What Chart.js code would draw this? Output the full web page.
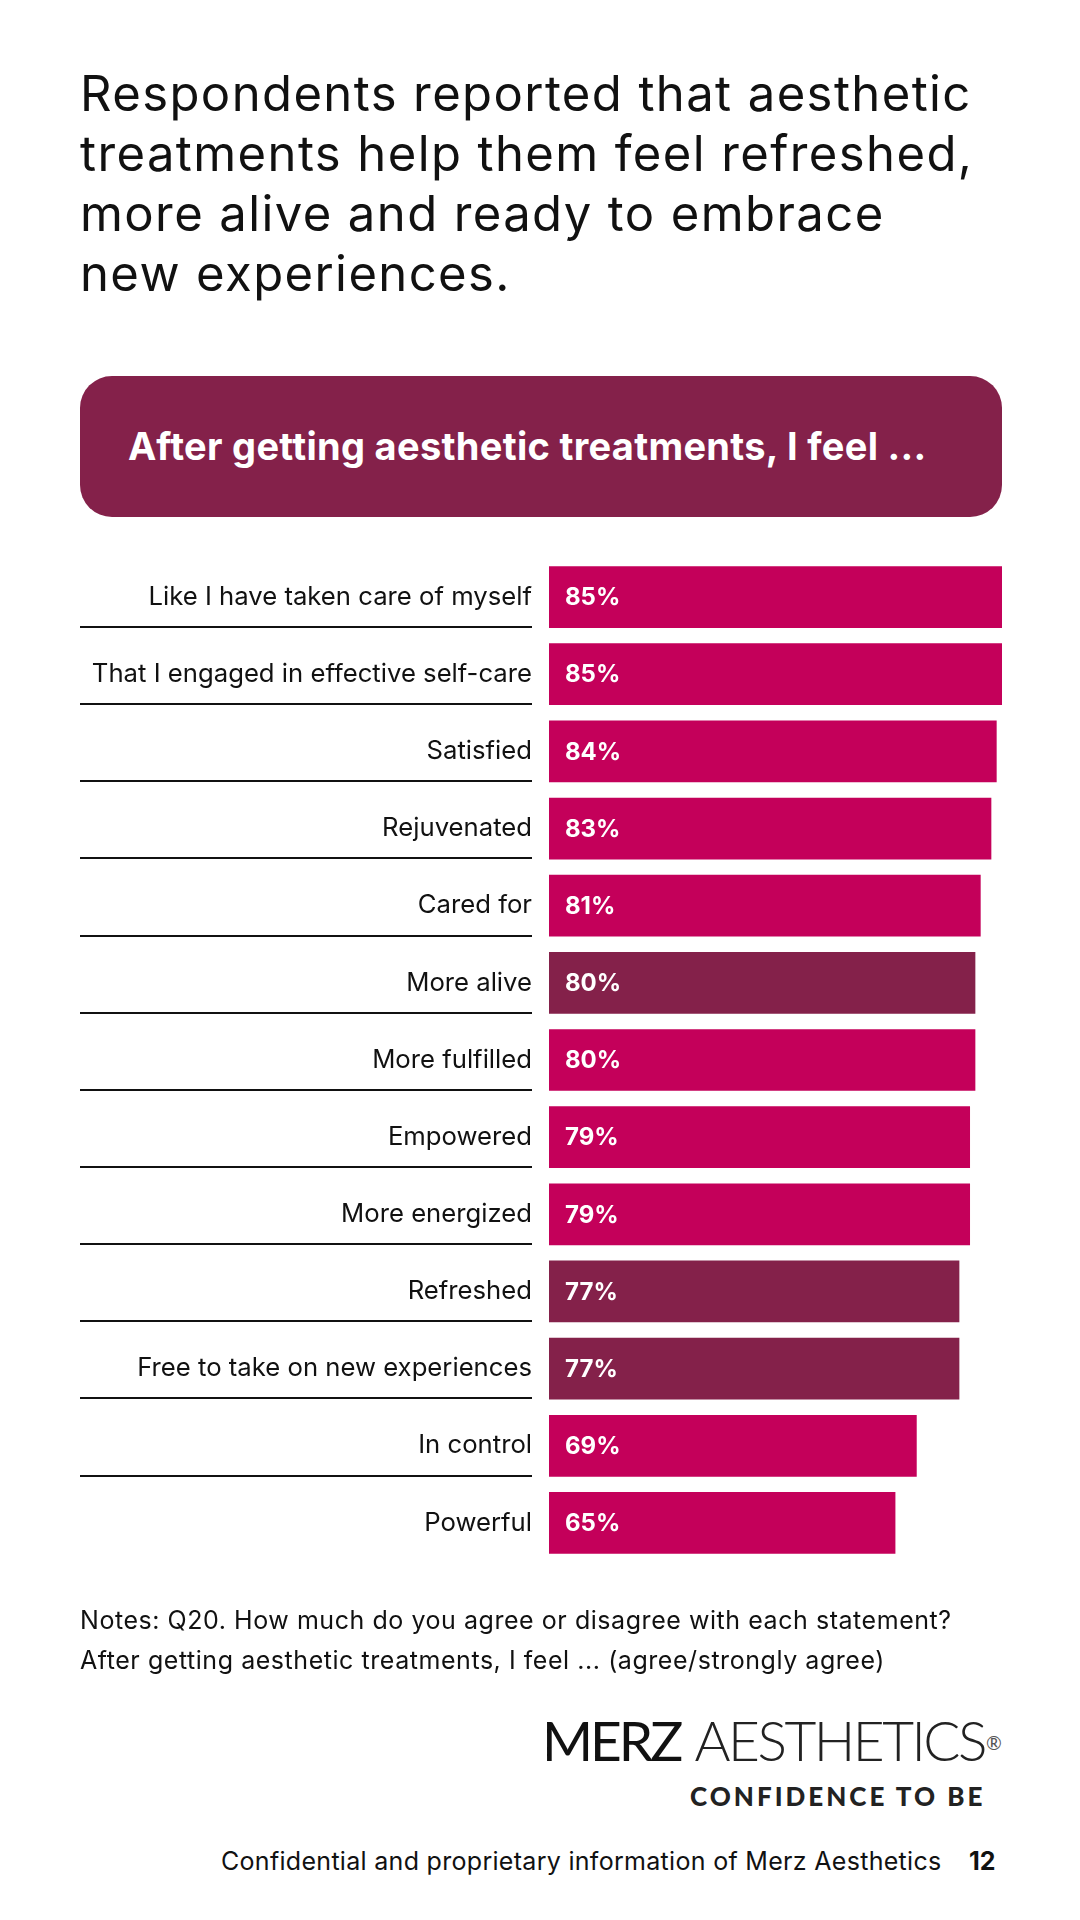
<!DOCTYPE html>
<html>
<head>
<meta charset="utf-8">
<script src="https://cdn.jsdelivr.net/npm/chart.js@4.4.1/dist/chart.umd.min.js"></script>
<style>
  html, body { margin: 0; padding: 0; background: #fff; }
  body { width: 1080px; height: 1920px; position: relative; overflow: hidden; font-family: Inter, Lato, sans-serif; color: #111; }
  .abs { position: absolute; white-space: nowrap; }
  #title { left: 80px; top: 64px; font-size: 49px; line-height: 60px; letter-spacing: 1.4px; }
  #header { left: 80px; top: 376px; width: 922px; height: 141px; background: #84214a; border-radius: 32px; }
  #header span { position: absolute; left: 48px; top: 51px; color: #fff; font-weight: 700; font-size: 38px; line-height: 38px; letter-spacing: 0.3px; }
  #chartWrap { left: 0; top: 518px; width: 1080px; height: 1084px; }
  #notes { left: 80px; top: 1600px; font-size: 25px; line-height: 40px; letter-spacing: 0.55px; }
  #logo { left: 542px; top: 1713px; font-size: 55px; line-height: 55px; font-family: Lato, sans-serif; }
  #logo .merz { font-weight: 400; letter-spacing: -3px; }
  #logo .aes { font-weight: 300; letter-spacing: -2.5px; color: #222; }
  #logo sup { font-size: 19px; vertical-align: top; position: relative; top: 2px; left: 1px; color: #555; }
  #tag { left: 690px; top: 1783px; font-size: 26px; line-height: 26px; font-weight: 900; letter-spacing: 3px; color: #222; font-family: Lato, sans-serif; }
  #footer { left: 221px; top: 1849px; font-size: 25px; line-height: 25px; letter-spacing: 0.3px; }
  #page { left: 969px; top: 1849px; font-size: 25px; line-height: 25px; font-weight: 700; }
</style>
</head>
<body>
<div id="title" class="abs">Respondents reported that aesthetic<br>treatments help them feel refreshed,<br>more alive and ready to embrace<br>new experiences.</div>
<div id="header" class="abs"><span>After getting aesthetic treatments, I feel ...</span></div>
<div id="chartWrap" class="abs"><canvas id="feelChart"></canvas></div>
<div id="notes" class="abs">Notes: Q20. How much do you agree or disagree with each statement?<br>After getting aesthetic treatments, I feel ... (agree/strongly agree)</div>
<div id="logo" class="abs"><span class="merz">MERZ</span> <span class="aes">AESTHETICS</span><sup>®</sup></div>
<div id="tag" class="abs">CONFIDENCE TO BE</div>
<div id="footer" class="abs">Confidential and proprietary information of Merz Aesthetics</div>
<div id="page" class="abs">12</div>
<script>
const feelings = [
  'Like I have taken care of myself',
  'That I engaged in effective self-care',
  'Satisfied',
  'Rejuvenated',
  'Cared for',
  'More alive',
  'More fulfilled',
  'Empowered',
  'More energized',
  'Refreshed',
  'Free to take on new experiences',
  'In control',
  'Powerful',
];
const agreePct = [85, 85, 84, 83, 81, 80, 80, 79, 79, 77, 77, 69, 65];
const highlighted = ['More alive', 'Refreshed', 'Free to take on new experiences'];

const pink = '#c4005a';
const plum = '#84214a';

const rowLines = {
  id: 'rowLines',
  afterDatasetsDraw(chart) {
    const ctx = chart.ctx;
    const bars = chart.getDatasetMeta(0).data;
    ctx.save();
    ctx.strokeStyle = '#111';
    ctx.lineWidth = 2;
    bars.forEach((bar, i) => {
      if (i === bars.length - 1) return;
      const y = Math.round(bar.y + bar.height / 2) - 1;
      ctx.beginPath();
      ctx.moveTo(80, y);
      ctx.lineTo(532, y);
      ctx.stroke();
    });
    ctx.restore();
  },
};

const valueLabels = {
  id: 'valueLabels',
  afterDatasetsDraw(chart) {
    const ctx = chart.ctx;
    const bars = chart.getDatasetMeta(0).data;
    ctx.save();
    ctx.fillStyle = '#fff';
    ctx.font = '700 24px Inter';
    ctx.textAlign = 'left';
    ctx.textBaseline = 'middle';
    bars.forEach((bar, i) => {
      ctx.fillText(agreePct[i] + '%', bar.base + 16, bar.y + 1);
    });
    ctx.restore();
  },
};

new Chart(document.getElementById('feelChart').getContext('2d'), {
  type: 'bar',
  data: {
    labels: feelings,
    datasets: [{
      data: agreePct,
      backgroundColor: feelings.map(f => highlighted.includes(f) ? plum : pink),
      barPercentage: 0.8,
      categoryPercentage: 1,
    }],
  },
  options: {
    indexAxis: 'y',
    responsive: true,
    maintainAspectRatio: false,
    animation: false,
    layout: { padding: { top: 40.5, bottom: 40.5, left: 0, right: 78 } },
    plugins: { legend: { display: false }, tooltip: { enabled: false } },
    scales: {
      x: { display: false, min: 0, max: 85 },
      y: {
        grid: { display: false, drawTicks: false },
        border: { display: false },
        ticks: { color: '#111', font: { family: 'Inter', size: 25.7 }, padding: 17 },
        afterFit(scale) { scale.width = 549; },
      },
    },
  },
  plugins: [rowLines, valueLabels],
});
</script>
</body>
</html>
